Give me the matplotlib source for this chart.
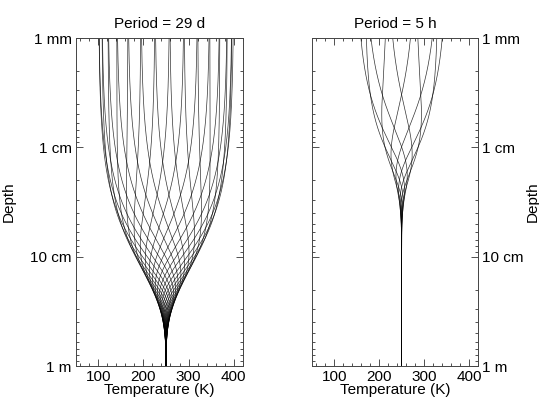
import numpy as np
import matplotlib.pyplot as plt
from matplotlib.ticker import FixedLocator, LogLocator, MultipleLocator, NullFormatter

plt.rcParams['font.family'] = ['Liberation Sans', 'DejaVu Sans']

# --- valores -------------------------------------------------------------
titles = ["Period = 29 d", "Period = 5 h"]
t_mean = [250.0, 250.0]          # K, temperatura media
t_amp = [150.0, 100.0]           # K, amplitud en superficie
skin_depth = [0.125, 0.0105]     # m, profundidad de penetración térmica
n_snapshots = [29, 10]           # perfiles dibujados por periodo

depth_ticks = [1e-3, 1e-2, 1e-1, 1.0]
depth_labels = ["1 mm", "1 cm", "10 cm", "1 m"]
temp_ticks = [100, 200, 300, 400]

FS = 11

# perfiles de la onda térmica amortiguada T(z, t)
z = np.logspace(-3, 0, 600)

fig = plt.figure(figsize=(5.39, 4.03), dpi=100)
ax_l = fig.add_axes([0.1404, 0.0918, 0.3099, 0.8139])
ax_r = fig.add_axes([0.5783, 0.0918, 0.3085, 0.8139])

for i, ax in enumerate([ax_l, ax_r]):
    phases = 2 * np.pi * np.arange(n_snapshots[i]) / n_snapshots[i]
    for ph in phases:
        temp = t_mean[i] + t_amp[i] * np.exp(-z / skin_depth[i]) * np.cos(ph - z / skin_depth[i])
        ax.plot(temp, z, color='black', lw=0.5, alpha=0.8)

    ax.set_yscale('log')
    ax.set_ylim(1.0, 1e-3)
    ax.set_xlim(50, 420)
    ax.yaxis.set_major_locator(FixedLocator(depth_ticks))
    ax.set_yticklabels(depth_labels)
    ax.yaxis.set_minor_locator(LogLocator(base=10, subs=np.arange(2, 10)))
    ax.yaxis.set_minor_formatter(NullFormatter())
    ax.xaxis.set_major_locator(FixedLocator(temp_ticks))
    ax.xaxis.set_minor_locator(MultipleLocator(20))
    ax.tick_params(which='both', direction='in', top=True, right=True,
                   labelsize=FS, width=0.6, pad=3, colors='#333333',
                   labelcolor='black')
    ax.tick_params(which='major', length=5)
    ax.tick_params(which='minor', length=2.5)
    for s in ax.spines.values():
        s.set_linewidth(0.7)
        s.set_color('#444444')
    ax.set_xlabel("Temperature (K)", fontsize=FS, labelpad=-1)
    ax.set_ylabel("Depth", fontsize=FS)
    ax.set_title(titles[i], fontsize=FS, pad=7)

ax_l.yaxis.set_label_coords(-0.36, 0.5)
ax_r.yaxis.set_label_position('right')
ax_r.tick_params(axis='y', which='both', labelleft=False, labelright=True)
ax_r.yaxis.set_label_coords(1.285, 0.5)

fig.savefig("out.png", dpi=100)
